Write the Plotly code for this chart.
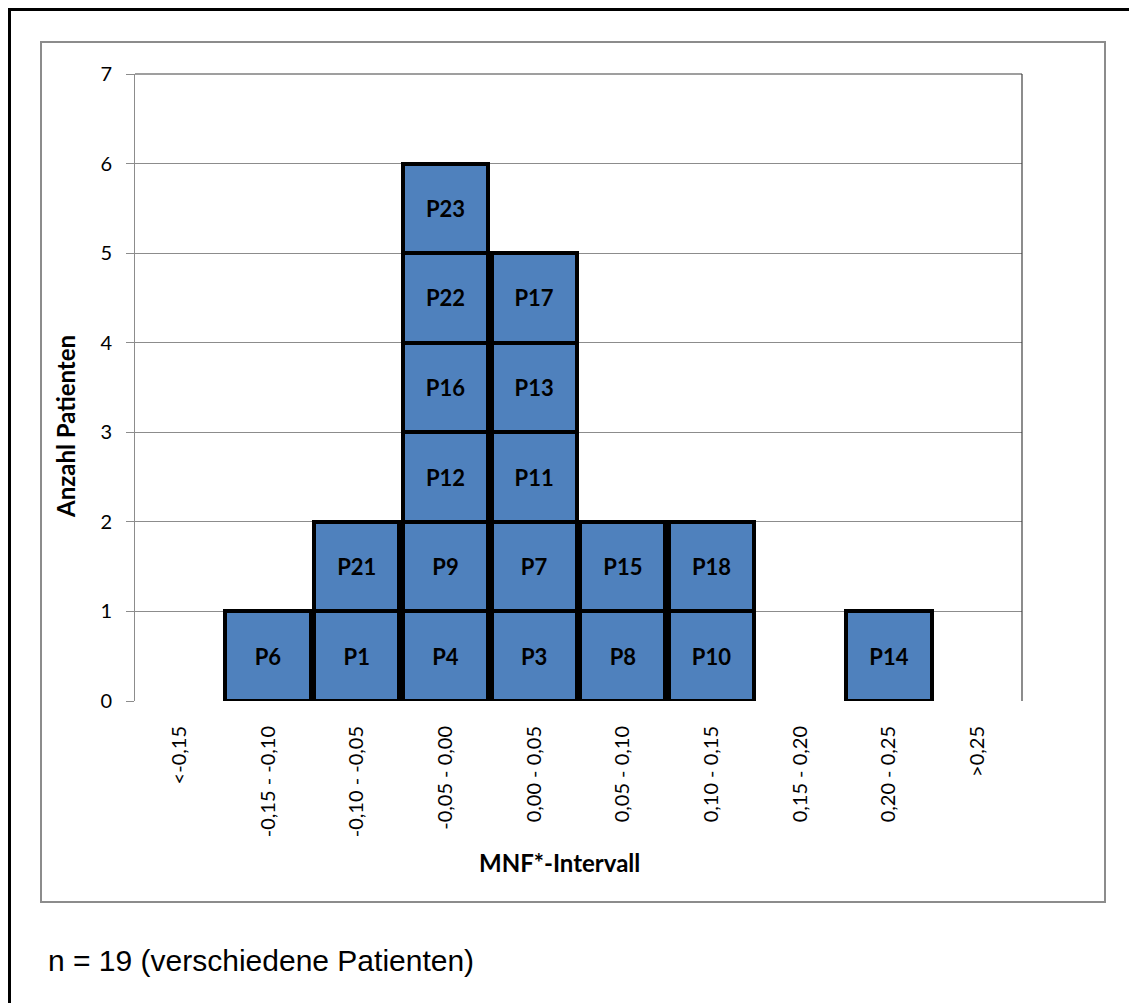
import plotly.graph_objects as go

# ---- data ----
categories = ["<-0,15", "-0,15 - -0,10", "-0,10 - -0,05", "-0,05 - 0,00",
              "0,00 - 0,05", "0,05 - 0,10", "0,10 - 0,15", "0,15 - 0,20",
              "0,20 - 0,25", ">0,25"]
# patients per interval, stacked from bottom to top
patients_lt_m015 = []
patients_m015_m010 = ["P6"]
patients_m010_m005 = ["P1", "P21"]
patients_m005_000 = ["P4", "P9", "P12", "P16", "P22", "P23"]
patients_000_005 = ["P3", "P7", "P11", "P13", "P17"]
patients_005_010 = ["P8", "P15"]
patients_010_015 = ["P10", "P18"]
patients_015_020 = []
patients_020_025 = ["P14"]
patients_gt_025 = []

y_ticks = [0, 1, 2, 3, 4, 5, 6, 7]

columns = [patients_lt_m015, patients_m015_m010, patients_m010_m005,
           patients_m005_000, patients_000_005, patients_005_010,
           patients_010_015, patients_015_020, patients_020_025,
           patients_gt_025]

OFF = 8  # page body margin
W, H = 1137 - OFF, 1003 - OFF
PL, PR, PT, PB = 135, 1022, 74, 701  # plot area in page pixels


def px(x):
    return (x - PL) / (PR - PL)


def py(y):
    return (PB - y) / (PB - PT)


FONT = "Lato, Open Sans, sans-serif"

fig = go.Figure()
max_level = max(len(c) for c in columns)
for lvl in range(max_level):
    ys = [1 if len(c) > lvl else None for c in columns]
    txt = [c[lvl] if len(c) > lvl else "" for c in columns]
    fig.add_trace(go.Bar(
        x=categories, y=ys, text=txt,
        textposition="inside", insidetextanchor="middle", textangle=0,
        constraintext="none",
        texttemplate="<b>%{text}</b>",
        textfont=dict(family=FONT, size=22, color="black"),
        marker=dict(color="#4F81BD", line=dict(color="black", width=4)),
        hoverinfo="skip", showlegend=False,
    ))

fig.update_layout(
    width=W, height=H,
    margin=dict(l=PL - OFF, r=1137 - PR, t=PT - OFF, b=1003 - PB),
    paper_bgcolor="white", plot_bgcolor="white",
    barmode="stack", bargap=0.04,
    font=dict(family=FONT, color="black", size=16),
    xaxis=dict(
        tickangle=-90, showgrid=False, showline=False, ticks="",
        tickfont=dict(size=20, color="black"), ticklabelstandoff=20,
    ),
    yaxis=dict(
        range=[0, 7], tickvals=y_ticks, showgrid=True, gridcolor="#8C8C8C",
        gridwidth=1, showline=True, linecolor="#8C8C8C", linewidth=1,
        ticks="outside", ticklen=8, tickcolor="#8C8C8C",
        tickfont=dict(size=20, color="black"), zeroline=False,
        ticklabelstandoff=10,
    ),
    shapes=[
        # plot area border (top & right)
        dict(type="line", xref="paper", yref="paper", x0=0, x1=1, y0=1, y1=1,
             line=dict(color="#404040", width=1.2)),
        dict(type="line", xref="paper", yref="paper", x0=1, x1=1, y0=0, y1=1,
             line=dict(color="#404040", width=1.2)),
        # chart frame (gray)
        dict(type="rect", xref="paper", yref="paper",
             x0=px(41), x1=px(1105), y0=py(902), y1=py(42),
             line=dict(color="#8C8C8C", width=2), layer="below"),
        # outer black frame
        dict(type="rect", xref="paper", yref="paper",
             x0=px(9.5), x1=px(1160), y0=py(1030), y1=py(9.5),
             line=dict(color="black", width=3), layer="below"),
    ],
    annotations=[
        dict(text="<b>MNF*-Intervall</b>", xref="paper", yref="paper",
             x=px(559), y=py(862), xanchor="center", yanchor="middle",
             showarrow=False, font=dict(family=FONT, size=24, color="black")),
        dict(text="<b>Anzahl Patienten</b>", xref="paper", yref="paper",
             x=px(65), y=py(427), xanchor="center", yanchor="middle",
             textangle=-90,
             showarrow=False, font=dict(family=FONT, size=24, color="black")),
        dict(text="n = 19 (verschiedene Patienten)", xref="paper", yref="paper",
             x=px(46), y=py(960), xanchor="left", yanchor="middle",
             showarrow=False,
             font=dict(family="Liberation Sans, Arial, sans-serif", size=30, color="black")),
    ],
)

fig.write_html("out.html")
